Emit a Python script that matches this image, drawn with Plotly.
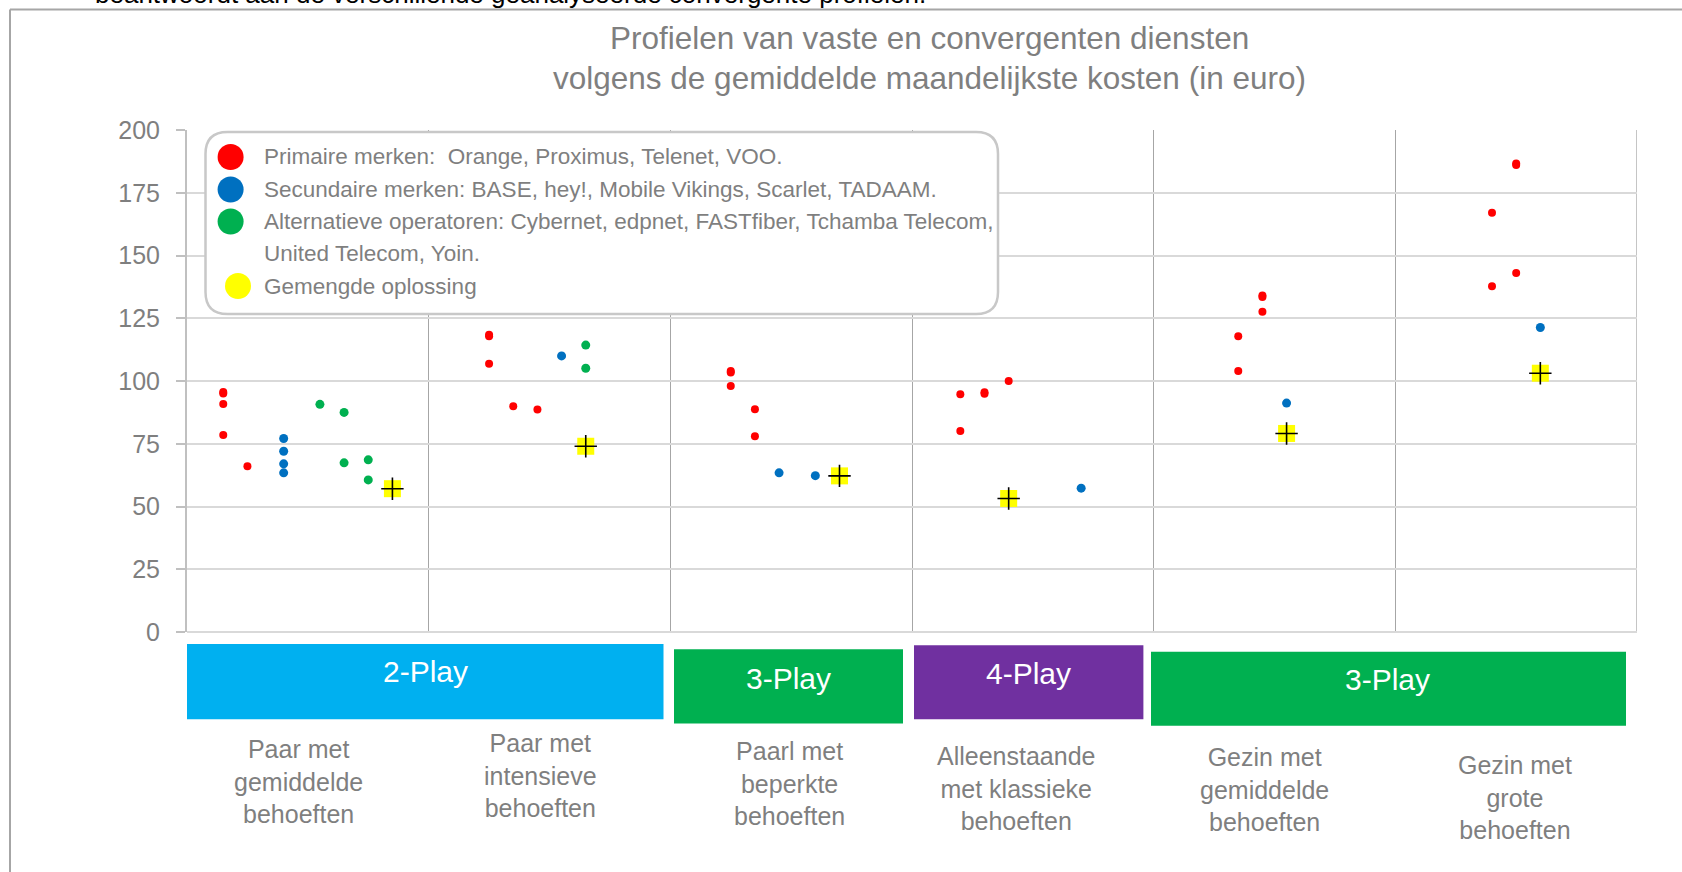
import plotly.graph_objects as go

# ---------------- data ----------------
categories = [
    "Paar met<br>gemiddelde<br>behoeften",
    "Paar met<br>intensieve<br>behoeften",
    "Paarl met<br>beperkte<br>behoeften",
    "Alleenstaande<br>met klassieke<br>behoeften",
    "Gezin met<br>gemiddelde<br>behoeften",
    "Gezin met<br>grote<br>behoeften",
]
play_groups = ["2-Play", "3-Play", "4-Play", "3-Play"]

# Primaire merken (x = category index + position inside the category)
prim_x = [0.15, 0.15, 0.15, 0.15, 0.25,
          1.25, 1.25, 1.25, 1.35, 1.45,
          2.25, 2.25, 2.25, 2.35, 2.35,
          3.20, 3.20, 3.30, 3.30, 3.40,
          4.35, 4.35, 4.45, 4.45, 4.45,
          5.40, 5.40, 5.50, 5.50, 5.50]
prim_y = [95.0, 95.6, 90.8, 78.5, 66.0,
          117.8, 118.4, 106.9, 89.9, 88.6,
          103.4, 104.0, 98.0, 88.7, 78.0,
          94.7, 80.1, 94.9, 95.5, 100.0,
          117.8, 104.0, 133.5, 134.1, 127.6,
          167.0, 137.7, 186.1, 186.7, 143.0]

# Secundaire merken
sec_x = [0.40, 0.40, 0.40, 0.40, 1.55, 2.45, 2.60, 3.70, 4.55, 5.60]
sec_y = [77.1, 72.0, 67.0, 63.4, 110.0, 63.4, 62.3, 57.3, 91.2, 121.3]

# Alternatieve operatoren
alt_x = [0.55, 0.65, 0.65, 0.75, 0.75, 1.65, 1.65]
alt_y = [90.7, 87.5, 67.4, 68.6, 60.6, 114.3, 105.1]

# Gemengde oplossing
mix_x = [0.85, 1.65, 2.70, 3.40, 4.55, 5.60]
mix_y = [57.1, 74.0, 62.2, 53.2, 79.1, 103.1]

legend_labels = [
    "Primaire merken:  Orange, Proximus, Telenet, VOO.",
    "Secundaire merken: BASE, hey!, Mobile Vikings, Scarlet, TADAAM.",
    "Alternatieve operatoren: Cybernet, edpnet, FASTfiber, Tchamba Telecom,",
    "United Telecom, Yoin.",
    "Gemengde oplossing",
]
title_lines = ["Profielen van vaste en convergenten diensten",
               "volgens de gemiddelde maandelijkste kosten (in euro)"]
top_text = "beantwoordt aan de verschillende geanalyseerde convergente profielen."

RED, BLUE, GREEN, YELLOW = "#FF0000", "#0070C0", "#00B050", "#FFFF00"
CYAN, PURPLE = "#00B0F0", "#7030A0"
GREY_TXT = "#7f7f7f"
FONT = "Liberation Sans, Arial, sans-serif"

# ---------------- layout geometry (pixels) ----------------
FW, FH = 1682, 872
ML, MR, MT, MB = 187, 45, 130, 240
PW, PH = FW - ML - MR, FH - MT - MB


def px(x):
    return (x - ML) / PW


def py(y):
    return 1 - (y - MT) / PH


fig = go.Figure()

fig.add_trace(go.Scatter(x=prim_x, y=prim_y, mode="markers",
                         marker=dict(color=RED, size=8, line=dict(width=0)),
                         showlegend=False, hoverinfo="skip"))
fig.add_trace(go.Scatter(x=sec_x, y=sec_y, mode="markers",
                         marker=dict(color=BLUE, size=9, line=dict(width=0)),
                         showlegend=False, hoverinfo="skip"))
fig.add_trace(go.Scatter(x=alt_x, y=alt_y, mode="markers",
                         marker=dict(color=GREEN, size=9, line=dict(width=0)),
                         showlegend=False, hoverinfo="skip"))
fig.add_trace(go.Scatter(x=mix_x, y=mix_y, mode="markers",
                         marker=dict(color=YELLOW, size=17, symbol="square",
                                     line=dict(width=0)),
                         showlegend=False, hoverinfo="skip"))
fig.add_trace(go.Scatter(x=mix_x, y=mix_y, mode="markers",
                         marker=dict(color="black", size=16, symbol="cross-thin",
                                     line=dict(width=1.6, color="black")),
                         showlegend=False, hoverinfo="skip"))

shapes = []
annotations = []

# outer frame (top and left lines)
shapes.append(dict(type="line", xref="paper", yref="paper",
                   x0=px(10), x1=px(FW + 5), y0=py(9.5), y1=py(9.5),
                   line=dict(color="#a6a6a6", width=2)))
shapes.append(dict(type="line", xref="paper", yref="paper",
                   x0=px(10), x1=px(10), y0=py(9.5), y1=py(FH + 5),
                   line=dict(color="#a6a6a6", width=2)))

# right border of plot area
shapes.append(dict(type="line", xref="x", yref="y", x0=6, x1=6, y0=0, y1=200,
                   line=dict(color="#a6a6a6", width=1.3), layer="below"))

# cut-off text at the very top
annotations.append(dict(text=top_text, xref="paper", yref="paper",
                        x=px(93), y=py(11.5), xanchor="left", yanchor="bottom",
                        showarrow=False, font=dict(size=26, color="black", family=FONT)))

# title
for t, yy in zip(title_lines, [38.5, 77.5]):
    annotations.append(dict(text=t, xref="paper", yref="paper",
                            x=px(929.5), y=py(yy), xanchor="center", yanchor="middle",
                            showarrow=False, font=dict(size=31.5, color=GREY_TXT, family=FONT)))

# legend box (rounded)
lx0, lx1, ly0, ly1, r = 205.5, 998, 132, 314, 22
rx, ry = r / PW, r / PH
X0, X1, Y0, Y1 = px(lx0), px(lx1), py(ly1), py(ly0)
path = (f"M {X0 + rx},{Y1} L {X1 - rx},{Y1} Q {X1},{Y1} {X1},{Y1 - ry} "
        f"L {X1},{Y0 + ry} Q {X1},{Y0} {X1 - rx},{Y0} L {X0 + rx},{Y0} "
        f"Q {X0},{Y0} {X0},{Y0 + ry} L {X0},{Y1 - ry} Q {X0},{Y1} {X0 + rx},{Y1} Z")
shapes.append(dict(type="path", xref="paper", yref="paper", path=path,
                   fillcolor="white", line=dict(color="#c8c8c8", width=2.5)))

legend_rows_y = [157, 189.5, 221.5, 253.5, 286]
legend_marker = [(RED, 230.6, 157), (BLUE, 230.6, 189.5), (GREEN, 230.6, 221.5),
                 (YELLOW, 238, 286)]
for col, cx, cy in legend_marker:
    shapes.append(dict(type="circle", xref="paper", yref="paper",
                       x0=px(cx - 13), x1=px(cx + 13), y0=py(cy + 13), y1=py(cy - 13),
                       fillcolor=col, line=dict(width=0)))
for t, yy in zip(legend_labels, legend_rows_y):
    annotations.append(dict(text=t, xref="paper", yref="paper",
                            x=px(262), y=py(yy), xanchor="left", yanchor="middle",
                            showarrow=False, font=dict(size=22.5, color=GREY_TXT, family=FONT)))

# play group boxes
boxes = [
    (CYAN, 187, 663.5, 644, 719.3, 425.5, 671),
    (GREEN, 674, 903, 649.3, 723.5, 788, 678),
    (PURPLE, 914, 1143.4, 645.3, 719.3, 1028.7, 673),
    (GREEN, 1151, 1626, 651.7, 725.7, 1387.8, 679.5),
]
for (col, x0, x1, y0, y1, tx, ty), lab in zip(boxes, play_groups):
    shapes.append(dict(type="rect", xref="paper", yref="paper",
                       x0=px(x0), x1=px(x1), y0=py(y1), y1=py(y0),
                       fillcolor=col, line=dict(width=0)))
    annotations.append(dict(text=lab, xref="paper", yref="paper",
                            x=px(tx), y=py(ty), xanchor="center", yanchor="middle",
                            showarrow=False, font=dict(size=30, color="white", family=FONT)))

# category labels
cat_pos = [(298, 781), (540, 775.6), (789.5, 783), (1016, 788), (1264, 789.5), (1515, 797)]
for lab, (cx, cy) in zip(categories, cat_pos):
    annotations.append(dict(text=lab, xref="paper", yref="paper",
                            x=px(cx), y=py(cy), xanchor="center", yanchor="middle",
                            showarrow=False, align="center",
                            font=dict(size=25, color=GREY_TXT, family=FONT)))

fig.update_layout(
    width=FW, height=FH,
    margin=dict(l=ML, r=MR, t=MT, b=MB, pad=0),
    paper_bgcolor="white", plot_bgcolor="white",
    shapes=shapes, annotations=annotations,
    showlegend=False,
    xaxis=dict(range=[0, 6], tickvals=[1, 2, 3, 4, 5], showticklabels=False,
               showgrid=True, gridcolor="#a6a6a6", gridwidth=1.3,
               zeroline=False, showline=False, ticks=""),
    yaxis=dict(range=[0, 200], tick0=0, dtick=25, showgrid=True,
               gridcolor="#d9d9d9", gridwidth=2,
               zeroline=True, zerolinecolor="#d9d9d9", zerolinewidth=2,
               showline=True, linecolor="#c0c0c0", linewidth=2,
               ticks="outside", ticklen=9, tickwidth=2, tickcolor="#c0c0c0",
               ticklabelstandoff=11,
               tickfont=dict(size=25, color=GREY_TXT, family=FONT)),
)

fig.write_html("out.html", config={"displayModeBar": False},
               post_script="document.body.style.margin='0';document.body.style.overflow='hidden';")
